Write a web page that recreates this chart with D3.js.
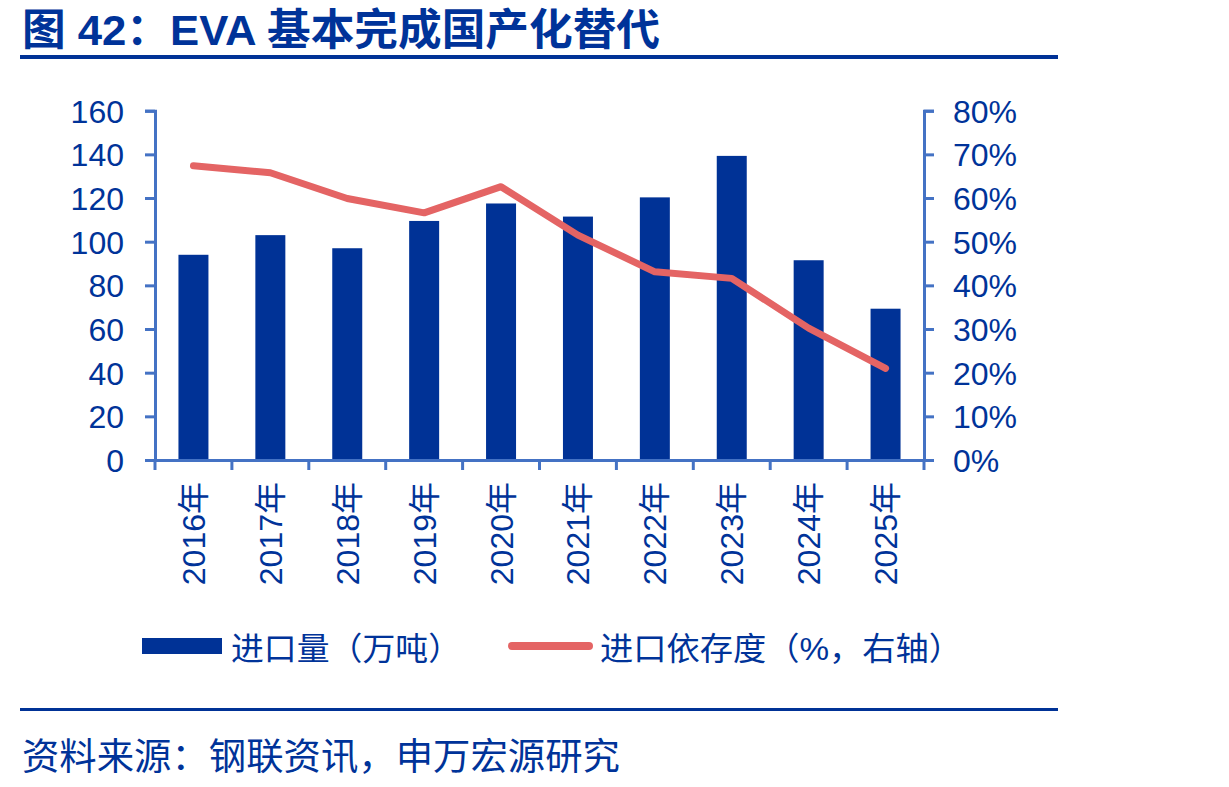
<!DOCTYPE html>
<html><head><meta charset="utf-8">
<script src="https://cdn.jsdelivr.net/npm/d3@7"></script>
<style>body{margin:0;background:#fff}svg{display:block}text{font-family:"Liberation Sans","Noto Sans CJK SC",sans-serif}</style>
</head><body><svg id="c" width="1229" height="787"></svg>
<script>
const categories = ["2016年","2017年","2018年","2019年","2020年","2021年","2022年","2023年","2024年","2025年"];
const importVolume = [94, 103, 97, 109.5, 117.5, 111.5, 120.3, 139.3, 91.5, 69.3];
const importDependence = [67.4, 65.8, 59.9, 56.6, 62.6, 51.5, 43.1, 41.6, 30.2, 21.0];
const leftTicks = [0,20,40,60,80,100,120,140,160];
const rightTicks = [0,10,20,30,40,50,60,70,80];
const title = "图 42：EVA 基本完成国产化替代";
const legendLabels = ["进口量（万吨）","进口依存度（%，右轴）"];
const source = "资料来源：钢联资讯，申万宏源研究";

const blue="#003296", axisC="#4472C4", red="#E46464", txt="#003399";
const svg=d3.select("#c");
const L=155,R=924,T=110.7,B=460;
const x=d3.scaleBand().domain(categories).range([L,R]).paddingInner(0.61).paddingOuter(0.305);
const xb=d3.scaleBand().domain(categories).range([L,R]);
const yL=d3.scaleLinear().domain([0,160]).range([B,T]);
const yR=d3.scaleLinear().domain([0,80]).range([B,T]);

svg.append("text").attr("x",22).attr("y",45).attr("fill",txt).attr("font-size",43).attr("font-weight","bold")
 .attr("textLength",638).attr("lengthAdjust","spacingAndGlyphs").text(title);
svg.append("rect").attr("x",20).attr("y",55).attr("width",1038).attr("height",4).attr("fill",blue);

svg.selectAll(".bar").data(importVolume).enter().append("rect")
 .attr("x",(d,i)=>x(categories[i])).attr("width",x.bandwidth())
 .attr("y",d=>yL(d)).attr("height",d=>B-yL(d)).attr("fill",blue);

const line=d3.line().x((d,i)=>xb(categories[i])+xb.bandwidth()/2).y(d=>yR(d));
svg.append("path").datum(importDependence).attr("d",line).attr("fill","none")
 .attr("stroke",red).attr("stroke-width",7).attr("stroke-linecap","round").attr("stroke-linejoin","round");

function styleAxis(g){g.selectAll("path,line").attr("stroke",axisC).attr("stroke-width",3);
 g.selectAll("text").attr("fill",txt).attr("font-size",32).attr("font-family",'"Liberation Sans","Noto Sans CJK SC",sans-serif');}
const gl=svg.append("g").attr("transform",`translate(${L},0)`)
 .call(d3.axisLeft(yL).tickValues(leftTicks).tickSize(10).tickSizeOuter(10).tickPadding(21));
styleAxis(gl); gl.selectAll("text").attr("dy","0.36em");
const gr=svg.append("g").attr("transform",`translate(${R},0)`)
 .call(d3.axisRight(yR).tickValues(rightTicks).tickSize(10).tickSizeOuter(10).tickPadding(19).tickFormat(d=>d+"%"));
styleAxis(gr); gr.selectAll("text").attr("dy","0.36em");
const gx=svg.append("g").attr("transform",`translate(0,${B})`)
 .call(d3.axisBottom(xb).tickSize(0).tickPadding(0));
styleAxis(gx);
gx.selectAll(".tick text").attr("transform","rotate(-90)").attr("text-anchor","end").attr("x",-22).attr("y",0).attr("dy","0.36em");
const bounds=d3.range(categories.length+1).map(i=>L+i*xb.bandwidth());
svg.selectAll(".xt").data(bounds).enter().append("line").attr("x1",d=>d).attr("x2",d=>d)
 .attr("y1",B).attr("y2",B+10).attr("stroke",axisC).attr("stroke-width",3);

svg.append("rect").attr("x",142).attr("y",638).attr("width",80).attr("height",16).attr("fill",blue);
svg.append("text").attr("x",231).attr("y",648).attr("dy","0.36em").attr("fill",txt).attr("font-size",32)
 .attr("textLength",230).attr("lengthAdjust","spacingAndGlyphs").text(legendLabels[0]);
svg.append("line").attr("x1",512).attr("x2",589).attr("y1",646).attr("y2",646).attr("stroke",red).attr("stroke-width",8).attr("stroke-linecap","round");
svg.append("text").attr("x",600).attr("y",648).attr("dy","0.36em").attr("fill",txt).attr("font-size",32)
 .attr("textLength",362).attr("lengthAdjust","spacingAndGlyphs").text(legendLabels[1]);

svg.append("rect").attr("x",20).attr("y",708).attr("width",1038).attr("height",3).attr("fill",blue);
svg.append("text").attr("x",22).attr("y",757).attr("dy","0.36em").attr("fill",txt).attr("font-size",37)
 .attr("textLength",598).attr("lengthAdjust","spacingAndGlyphs").text(source);
</script></body></html>
